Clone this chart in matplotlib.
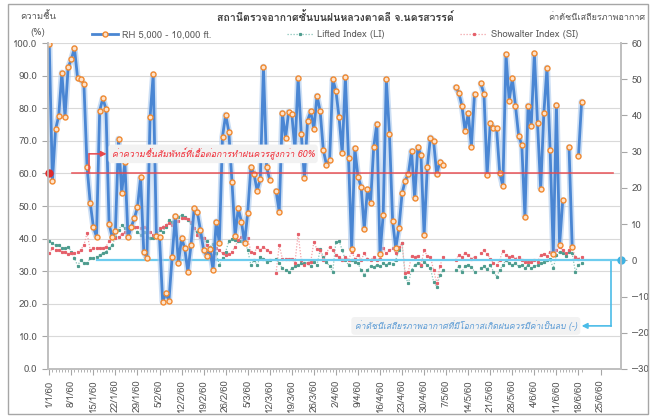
import numpy as np
import pandas as pd
import matplotlib
matplotlib.use("Agg")
import matplotlib.pyplot as plt
from matplotlib import font_manager
from matplotlib.ft2font import FT2Font
from matplotlib.patches import Rectangle
from matplotlib.lines import Line2D

nan = np.nan

# daily values from 1/1/60 (2017-01-01), nan = no observation
rh = [99.7, 57.7, 73.5, 77.6, 90.9, 77.4, 92.5, 95.0, 98.4, 89.2,
      88.9, 87.4, 62.0, 51.0, 43.6, 40.6, 79.2, 83.0, 79.8, 44.4,
      40.4, 42.3, 70.6, 53.9, 63.5, 40.5, 43.5, 46.2, 49.6, 58.8,
      36.0, 34.1, 77.2, 90.4, 40.9, 40.4, 20.6, 23.2, 21.0, 34.3,
      46.9, 32.4, 40.3, 37.0, 29.8, 38.0, 49.3, 48.1, 42.6, 36.5,
      34.7, 36.7, 30.4, 45.2, 38.6, 71.3, 78.0, 72.8, 57.5, 40.8,
      49.3, 45.2, 38.7, 47.9, 61.9, 59.8, 54.7, 58.3, 92.7, 61.9,
      58.0, nan, 54.6, 48.2, 78.6, 70.8, 78.9, 78.1, 67.4, 89.2,
      72.0, 58.7, 76.2, 79.0, 73.7, 83.8, 79.1, 67.2, 62.6, 64.1,
      88.9, 85.3, 77.2, 66.2, 89.6, 64.8, 36.8, 67.7, 59.0, 55.9,
      42.9, 55.1, 51.0, 68.2, 75.2, 35.2, 47.2, 89.0, 72.0, 45.4,
      37.0, 43.2, 53.9, 57.8, 59.8, 66.9, 52.4, 68.0, 65.6, 41.1,
      61.9, 71.0, 70.0, 59.7, 63.6, 62.6, nan, nan, nan, 86.4,
      84.8, 80.7, 73.0, 78.4, 68.2, 84.3, nan, 87.6, 84.4, 59.5,
      75.4, 74.0, 73.8, 60.2, 56.1, 96.5, 82.3, 89.2, 80.8, 71.6,
      68.7, 46.6, 80.8, 74.6, 96.8, 75.4, 55.2, 78.4, 92.4, 67.2,
      35.2, 81.0, 38.0, 51.7, nan, 68.0, 37.5, nan, 65.3, 82.0]

li = [5.2, 4.7, 4.2, 4.2, 3.5, 3.3, 3.8, 2.4, 0.6, -1.5,
      0.1, -0.8, -0.8, 0.6, 0.7, 1.0, 1.5, 1.9, 2.4, 3.3,
      4.2, 6.5, 8.4, 9.8, 8.8, 8.4, 8.8, 9.3, 7.9, 7.0,
      7.9, 6.5, 6.1, 6.1, 7.5, 8.4, 7.9, 9.3, 11.1, 10.7,
      11.1, 12.0, 12.5, 12.0, 11.1, 10.2, 8.8, 7.9, 7.0, 6.1,
      5.2, 3.8, 4.4, 1.9, -1.3, 0.6, 2.4, 5.2, 5.9, 5.6,
      5.2, 5.2, 5.4, 2.8, -1.3, 0.1, -1.3, 1.0, 0.5, -0.4,
      0.1, nan, 0.5, -0.8, -2.2, -2.7, -3.1, -2.2, -1.7, -1.3,
      -0.8, -0.6, -0.8, -1.6, -0.4, -1.3, 3.0, 1.0, -0.4, -1.7,
      -3.1, 5.1, 5.4, 2.8, 0.1, -1.3, 0.1, -0.4, -0.8, -2.7,
      -4.1, -2.7, -1.7, -1.9, -1.3, -1.7, -0.8, -1.3, -0.6, -1.0,
      0.1, 2.8, 4.7, -4.5, -6.3, -2.7, -1.3, -0.8, -1.7, -0.4,
      -1.3, -2.2, -5.9, -7.3, -4.1, -2.7, nan, nan, nan, -2.7,
      -1.7, -3.1, -1.7, -1.3, -1.9, -3.1, nan, -2.2, -1.7, -2.5,
      -1.3, -3.1, -4.5, -2.7, -1.3, 0.1, -0.8, -1.3, -0.8, -1.7,
      -1.3, -2.2, -1.3, -2.2, -1.7, -1.3, -0.8, -0.4, 0.1, 0.3,
      -2.2, 1.5, 2.4, 1.9, 1.2, 2.4, 1.9, -3.1, -1.3, -0.8]

si = [1.9, 3.3, 2.9, 2.9, 2.4, 2.4, 1.7, 1.9, 1.9, 2.4,
      2.9, 4.2, 7.5, 2.9, 3.3, 3.3, 3.5, 3.3, 3.8, 5.2,
      6.1, 6.1, 6.5, 7.2, 7.9, 8.8, 8.8, 9.3, 9.3, 8.8,
      9.3, 8.8, 7.9, 7.0, 6.5, 8.8, 9.3, 9.8, 10.2, 9.8,
      10.2, 10.9, 11.6, 11.6, 11.4, 10.7, 8.8, 7.0, 6.5, 6.1,
      4.2, 2.4, 1.5, 3.3, 2.9, 1.9, 1.5, 1.7, 2.4, 3.8,
      5.6, 6.5, 7.2, 6.1, 2.4, 1.9, 3.6, 2.8, 3.8, 2.8,
      2.4, nan, -3.6, 4.2, 0.5, 0.5, 0.3, 0.5, -0.6, 7.3,
      0.1, -1.3, -0.6, -0.4, 5.1, 3.0, 2.8, 0.1, 1.9, 3.8,
      2.8, 1.5, 1.0, 0.1, 1.0, 0.1, 2.4, 0.5, 1.5, 0.1,
      1.9, 0.5, 0.1, 1.0, 0.1, 0.5, 3.3, 1.9, 2.8, 3.3,
      1.9, 3.8, 4.7, -3.6, -3.1, 1.2, 1.0, 1.2, -1.3, 2.8,
      1.2, 1.0, -2.7, -6.3, -1.7, 1.0, nan, nan, nan, 0.1,
      1.5, 1.0, 1.9, 1.5, 0.5, 1.0, nan, 1.9, 2.8, 1.7,
      0.5, -0.8, -1.3, 0.1, 2.7, 1.5, 1.0, 1.2, 0.5, 1.0,
      0.1, -0.4, -0.4, -0.4, 0.1, -0.4, 1.5, 1.7, 1.2, 2.4,
      1.5, 2.8, 3.8, 2.8, 1.9, 2.8, 3.3, 1.0, 0.5, 1.0]

title = "สถานีตรวจอากาศชั้นบนฝนหลวงตาคลี จ.นครสวรรค์"
note_rh = "ค่าความชื้นสัมพัทธ์ที่เอื้อต่อการทำฝนควรสูงกว่า 60%"
note_idx = "ค่าดัชนีเสถียรภาพอากาศที่มีโอกาสเกิดฝนควรมีค่าเป็นลบ (-)"
rh_limit = 60
idx_limit = 0


def thai_font():
    """Name of an installed font that has Thai glyphs, or None"""
    for f in font_manager.fontManager.ttflist:
        try:
            if 0x0E01 in FT2Font(f.fname).get_charmap():
                return f.name
        except Exception:
            pass
    return None


th = thai_font()
plt.rcParams['font.family'] = [th, 'DejaVu Sans'] if th else ['DejaVu Sans']

days = np.arange(len(rh))
ticks = np.arange(0, 176, 7)
start = pd.Timestamp('2017-01-01')
tick_labels = [f"{d.day}/{d.month}/60" for d in start + pd.to_timedelta(ticks, 'D')]

fig = plt.figure(figsize=(6.53, 4.16), dpi=100)
ax = fig.add_axes([0.0735, 0.113, 0.8775, 0.7836])
ax2 = ax.twinx()
ax.set_zorder(ax2.get_zorder() + 1)
ax.patch.set_visible(False)

grey = '#595959'
ax.set_ylim(0, 100)
ax.set_yticks(np.arange(0, 101, 10))
ax.set_yticklabels([f"{v:.1f}" for v in np.arange(0, 101, 10)])
ax2.set_ylim(-30, 60)
ax2.set_yticks(np.arange(-30, 61, 10))
ax.set_xlim(-0.4, 181.5)
ax.set_xticks(ticks)
ax.set_xticklabels(tick_labels, rotation=90)
ax.set_xticks(days, minor=True)
for a in (ax, ax2):
    a.tick_params(labelsize=7, colors=grey, length=4, width=0.8)
    a.tick_params(axis='x', which='minor', length=2, color='#A6A6A6')
    for s in a.spines.values():
        s.set_color('#BFBFBF')
        s.set_linewidth(1.2)
    a.spines['top'].set_visible(False)
ax.tick_params(axis='both', which='major', color='#A6A6A6')
ax2.tick_params(axis='y', color='#A6A6A6')
for v in np.arange(10, 101, 10):
    ax2.axhline(v * 0.9 - 30, color='#D9D9D9', lw=0.8, zorder=0)

# stability indices on the right axis
li_style = dict(color='#86C4B9', lw=0.9, ls=(0, (1, 1.4)), marker='s', ms=1.3,
                mec='#4E9C8E', mfc='#4E9C8E')
si_style = dict(color='#F3A2A8', lw=0.9, ls=(0, (1, 1.4)), marker='s', ms=1.3,
                mec='#E5606A', mfc='#E5606A')
ax2.plot(days, li, **li_style)
ax2.plot(days, si, **si_style)
ax2.plot([15.1, 181.5], [idx_limit, idx_limit], color='#6DCCEE', lw=1.6, zorder=3)
ax2.plot([178.3, 178.3], [idx_limit, -18.1], color='#4BBCE8', lw=1.2, clip_on=False)
ax2.annotate('', xy=(169.0, -18.1), xytext=(178.4, -18.1),
             arrowprops=dict(arrowstyle='-|>', color='#4BBCE8', lw=1.2,
                             mutation_scale=8, shrinkA=0, shrinkB=0))
ax2.plot([181.5], [idx_limit], 'o', color='#3FB3E3', ms=5, clip_on=False, zorder=5)

# relative humidity on the left axis
ax.plot(days, rh, color='#A9C8EE', lw=4.5, alpha=0.6, solid_capstyle='round')
ax.plot(days, rh, color='#4A86D3', lw=2.0, marker='o', ms=3.6,
        mec='#F28A30', mfc='#FDE3CC', mew=1.0)
ax.plot([7.3, 179.0], [rh_limit, rh_limit], color='#E8474C', lw=1.2, alpha=0.85)
ax.plot([0], [rh_limit], 'o', color='#E02B2B', ms=5, clip_on=False)
ax.plot([12.7, 12.7], [rh_limit, 66.0], color='#E8474C', lw=1.1)
ax.annotate('', xy=(18.2, 66.0), xytext=(12.65, 66.0),
            arrowprops=dict(arrowstyle='-|>', color='#E8474C', lw=1.1,
                            mutation_scale=8, shrinkA=0, shrinkB=0))

ax.text(19.8, 66.0, note_rh, color='#F0303A', fontsize=6.4, style='italic',
        va='center', ha='left', zorder=6,
        bbox=dict(boxstyle='round,pad=0.35', fc='#F2F2F2', ec='none'))
ax2.text(167.5, -18.1, note_idx, color='#5B9BD5', fontsize=6.2, style='italic',
         va='center', ha='right', zorder=6,
         bbox=dict(boxstyle='round,pad=0.4', fc='#F2F2F2', ec='none'))

fig.text(0.513, 0.958, title, ha='center', va='center', fontsize=7.6,
         fontweight='bold', color='#404040')
fig.text(0.058, 0.962, "ความชื้น", ha='center', va='center', fontsize=6.8, color=grey)
fig.text(0.058, 0.923, "(%)", ha='center', va='center', fontsize=6.8, color=grey)
fig.text(0.914, 0.958, "ค่าดัชนีเสถียรภาพอากาศ", ha='center', va='center',
         fontsize=6.5, color=grey)

handles = [Line2D([], [], color='#4A86D3', lw=2, marker='o', ms=3.6,
                  mec='#F28A30', mfc='#FDE3CC'),
           Line2D([], [], **li_style),
           Line2D([], [], **si_style)]
fig.legend(handles, ["RH 5,000 - 10,000 ft.", "Lifted Index (LI)", "Showalter Index (SI)"],
           loc='center', bbox_to_anchor=(0.513, 0.916), ncol=3, frameon=False,
           fontsize=6.8, handlelength=2.8, handletextpad=0.4, columnspacing=8.0,
           labelcolor=grey)

fig.patches.append(Rectangle((0.0123, 0.004), 0.9797, 0.986, transform=fig.transFigure,
                             fill=False, ec='#A6A6A6', lw=1.0))

fig.savefig('out.png', dpi=100)
